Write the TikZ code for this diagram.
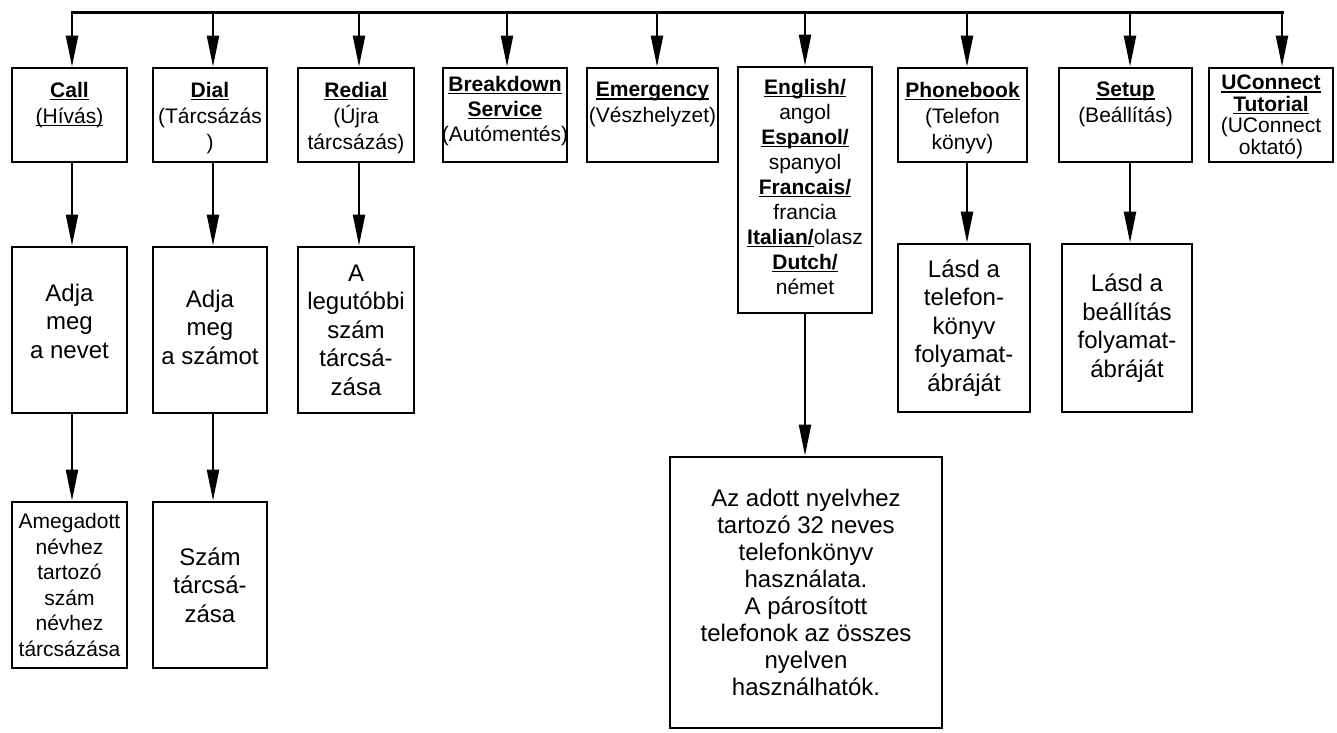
\documentclass[tikz,border=0pt]{standalone}
\usepackage{fontspec}
\setmainfont{Liberation Sans}
\usetikzlibrary{arrows.meta}
\newbox\myulbox
\newcommand\myul[1]{\setbox\myulbox=\hbox{#1}\leavevmode\hbox{\rlap{\copy\myulbox}\rule[-3pt]{\wd\myulbox}{1.5pt}}}
\begin{document}
\begin{tikzpicture}[x=1pt,y=-1pt,
  bx/.style={draw, line width=2.8pt, inner sep=0pt, align=center},
  arr/.style={line width=2.2pt, -{Triangle[length=31pt,width=12pt]}},
  bus/.style={line width=3pt, line cap=rect},
  ttxt/.style={inner sep=0pt, align=center, anchor=north, font=\fontsize{21}{26}\selectfont},
  mtxt/.style={font=\fontsize{24}{28.5}\selectfont},
  stxt/.style={font=\fontsize{21}{25}\selectfont}
]
\fill[white] (0,0) rectangle (1337,732);
\useasboundingbox (0,0) rectangle (1337,732);

% top row boxes
\node[bx, minimum width=115, minimum height=94] (call) at (69.5,115) {};
\node[bx, minimum width=114, minimum height=94] (dial) at (210,115) {};
\node[bx, minimum width=116, minimum height=94] (redial) at (356,115) {};
\node[bx, minimum width=124, minimum height=94] (brk) at (505,115) {};
\node[bx, minimum width=131, minimum height=94] (emg) at (652.5,115) {};
\node[bx, minimum width=134, minimum height=246] (eng) at (805,190) {};
\node[bx, minimum width=129, minimum height=94] (pb) at (962.5,115) {};
\node[bx, minimum width=133, minimum height=94] (setup) at (1125.5,115) {};
\node[bx, minimum width=124, minimum height=94] (uc) at (1271,115) {};

% top row texts
\node[ttxt] (callT) at (69.5,82) {\myul{\bfseries Call}\\\myul{(Hívás)}};
\node[ttxt] (dialT) at (210,82) {\myul{\bfseries Dial}\\(Tárcsázás\\)};
\node[ttxt] (redialT) at (356,82) {\myul{\bfseries Redial}\\(Újra\\tárcsázás)};
\node[ttxt, font=\fontsize{21}{25}\selectfont] (brkT) at (505,76) {\myul{\bfseries Breakdown}\\\myul{\bfseries Service}\\(Autómentés)};
\node[ttxt] (emgT) at (652.5,82) {\myul{\bfseries Emergency}\\(Vészhelyzet)};
\node[ttxt, font=\fontsize{21}{25}\selectfont] (engT) at (805,79) {\myul{\bfseries English/}\\angol\\\myul{\bfseries Espanol/}\\spanyol\\\myul{\bfseries Francais/}\\francia\\\myul{\bfseries Italian/}olasz\\\myul{\bfseries Dutch/}\\német};
\node[ttxt] (pbT) at (962.5,82) {\myul{\bfseries Phonebook}\\(Telefon\\könyv)};
\node[ttxt] (setupT) at (1125.5,82) {\myul{\bfseries Setup}\\(Beállítás)};
\node[ttxt, font=\fontsize{21}{21.5}\selectfont] (ucT) at (1271,75) {\myul{\bfseries UConnect}\\\myul{\bfseries Tutorial}\\(UConnect\\oktató)};

% middle row
\node[bx, minimum width=115, minimum height=166] (callm) at (69.5,330) {};
\node[mtxt, align=center, inner sep=0pt] (callmT) at (69.5,321) {Adja\\meg\\a nevet};
\node[bx, minimum width=114, minimum height=166] (dialm) at (210,330) {};
\node[mtxt, align=center, inner sep=0pt] (dialmT) at (210,327) {Adja\\meg\\a számot};
\node[bx, mtxt, minimum width=116, minimum height=166] (redm) at (356,330) {A\\legutóbbi\\szám\\tárcsá-\\zása};
\node[bx, mtxt, minimum width=132, minimum height=168] (pbm) at (964,328) {Lásd a\\telefon-\\könyv\\folyamat-\\ábráját};
\node[bx, mtxt, minimum width=130, minimum height=168] (setm) at (1127,328) {Lásd a\\beállítás\\folyamat-\\ábráját};

% bottom row
\node[bx, font=\fontsize{21}{25.5}\selectfont, minimum width=115, minimum height=166] (callb) at (69.5,585) {Amegadott\\névhez\\tartozó\\szám\\névhez\\tárcsázása};
\node[bx, mtxt, minimum width=114, minimum height=166] (dialb) at (210,585) {Szám\\tárcsá-\\zása};
\node[bx, font=\fontsize{24}{27}\selectfont, minimum width=272, minimum height=271] (big) at (806,592.5) {Az adott nyelvhez\\tartozó 32 neves\\telefonkönyv\\használata.\\A párosított\\telefonok az összes\\nyelven\\használhatók.};

% bus
\coordinate (j1) at (72,12);
\coordinate (j2) at (213,12);
\coordinate (j3) at (359,12);
\coordinate (j4) at (507,12);
\coordinate (j5) at (657,12);
\coordinate (j6) at (805,12);
\coordinate (j7) at (967,12);
\coordinate (j8) at (1130,12);
\coordinate (j9) at (1282,12);
\draw[bus] (j1) -- (j9);
\foreach \j/\b in {j1/call,j2/dial,j3/redial,j4/brk,j5/emg,j6/eng,j7/pb,j8/setup,j9/uc}
  \draw[arr] (\j) -- (\j |- \b.north);

% vertical arrows
\draw[arr] (j1 |- call.south) -- (j1 |- callm.north);
\draw[arr] (j2 |- dial.south) -- (j2 |- dialm.north);
\draw[arr] (j3 |- redial.south) -- (j3 |- redm.north);
\draw[arr] (j7 |- pb.south) -- (j7 |- pbm.north);
\draw[arr] (j8 |- setup.south) -- (j8 |- setm.north);
\draw[arr] (j1 |- callm.south) -- (j1 |- callb.north);
\draw[arr] (j2 |- dialm.south) -- (j2 |- dialb.north);
\draw[arr] (j6 |- eng.south) -- (j6 |- big.north);
\end{tikzpicture}
\end{document}
